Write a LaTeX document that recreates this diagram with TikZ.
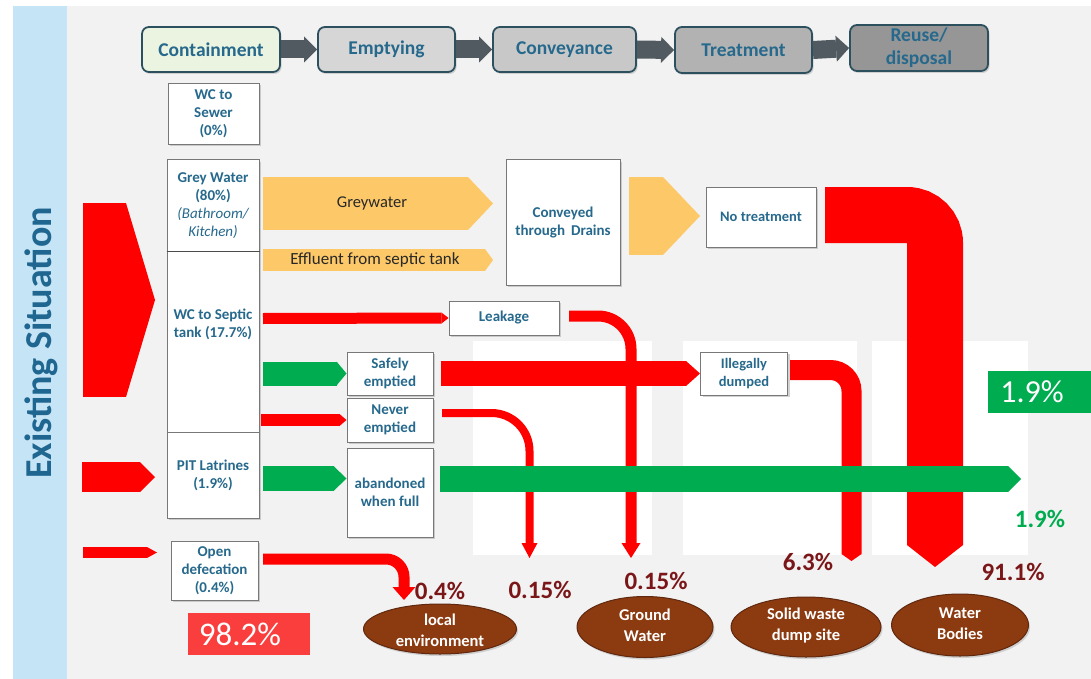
\documentclass[tikz,border=0pt]{standalone}
\usepackage{fontspec}
\setmainfont{Carlito}
\usetikzlibrary{arrows.meta,shadows,shapes.geometric}
\definecolor{bgray}{RGB}{242,242,242}
\definecolor{lblue}{RGB}{197,228,245}
\definecolor{txtc}{RGB}{38,105,140}
\definecolor{sitc}{RGB}{31,102,145}
\definecolor{hdrbd}{RGB}{45,80,95}
\definecolor{hdrarr}{RGB}{80,90,96}
\definecolor{cA}{RGB}{235,244,224}
\definecolor{cB}{RGB}{214,214,214}
\definecolor{cC}{RGB}{200,200,200}
\definecolor{cD}{RGB}{178,178,178}
\definecolor{cE}{RGB}{150,150,150}
\definecolor{yel}{RGB}{252,200,104}
\definecolor{grn}{RGB}{0,172,80}
\definecolor{mar}{RGB}{122,22,24}
\definecolor{brn}{RGB}{140,58,16}
\definecolor{brnbd}{RGB}{95,40,15}
\definecolor{boxbd}{RGB}{120,120,120}
\definecolor{pinkred}{RGB}{250,62,62}
\definecolor{darktxt}{RGB}{40,40,40}
\begin{document}
\begin{tikzpicture}[x=1pt,y=-1pt,
  hdr/.style={draw=hdrbd, line width=1.8pt, rounded corners=7pt, inner sep=0pt,
    font=\fontsize{19.5}{23}\selectfont\bfseries, text=txtc, align=center,
    drop shadow={shadow xshift=1.5pt,shadow yshift=-2pt,opacity=0.3}},
  wbox/.style={draw=boxbd, line width=1pt, fill=white, inner sep=1pt, align=center,
    text=txtc, font=\fontsize{15}{18}\selectfont\bfseries,
    drop shadow={shadow xshift=2pt,shadow yshift=-2pt,opacity=0.35}},
  txt/.style={inner sep=0pt, align=center, text=txtc, font=\fontsize{15}{18}\selectfont\bfseries},
  blk/.style n args={3}{line width=#1, -{Triangle[width=#2,length=#3,line width=0pt]}},
  ell/.style={ellipse, draw=brnbd, line width=1pt, fill=brn, inner sep=0pt,
    drop shadow={shadow xshift=1.5pt,shadow yshift=-2pt,opacity=0.3}},
  elltxt/.style={inner sep=0pt, align=center, text=white, font=\fontsize{16.5}{21}\selectfont\bfseries},
  pct/.style={inner sep=0pt, text=mar, font=\fontsize{25}{25}\selectfont\bfseries}]
\useasboundingbox (0,0) rectangle (1091,679);
% background
\fill[white] (0,0) rectangle (1091,679);
\fill[bgray] (67,6) rectangle (1091,679);
\fill[lblue] (13,6) rectangle (67,679);
\fill[white] (473,341) rectangle (652,555);
\fill[white] (683,341) rectangle (857,555);
\fill[white] (872,341) rectangle (1028,555);
\node[rotate=90, inner sep=0pt, font=\fontsize{38}{38}\selectfont\bfseries, text=sitc] (sit) at (41,343) {Existing Situation};
% header
\node[hdr, fill=cA, minimum width=138pt, minimum height=45pt] (cont) at (211,49.5) {Containment};
\node[hdr, fill=cB, minimum width=137pt, minimum height=45pt] (empt) at (386.5,49.5) {Emptying};
\node[hdr, fill=cC, minimum width=143pt, minimum height=45pt] (conv) at (564.5,49.5) {Conveyance};
\node[hdr, fill=cD, minimum width=137pt, minimum height=46pt] (treat) at (743.5,50) {Treatment};
\node[hdr, fill=cE, minimum width=138pt, minimum height=46pt] (reuse) at (919,48) {Reuse/\\disposal};
\draw[hdrarr, blk={18pt}{26pt}{13pt}] (cont.east) -- (empt.west);
\draw[hdrarr, blk={18pt}{26pt}{13pt}] (empt.east) -- (conv.west);
\draw[hdrarr, blk={18pt}{26pt}{13pt}] (conv.east) -- (treat.west);
\draw[hdrarr, blk={18pt}{26pt}{13pt}] (treat.east) -- (reuse.west);
% curved red flows (behind green)
\coordinate (leakout) at (569,316);
\coordinate (gwtop) at (631,558);
\draw[red, line width=11pt, rounded corners=33pt, -{Triangle[width=19pt,length=15pt,line width=0pt]}] (leakout) -- (631,316) -- (gwtop);
\coordinate (neverout) at (442,413);
\coordinate (nevend) at (529.5,558);
\draw[red, line width=8pt, rounded corners=38pt, -{Triangle[width=16pt,length=15pt,line width=0pt]}] (neverout) -- (529.5,413) -- (nevend);
\coordinate (openout) at (263,559);
\coordinate (openend) at (404,600);
\draw[red, line width=11pt, rounded corners=18pt, -{Triangle[width=23pt,length=13pt,line width=0pt]}] (openout) -- (404,559) -- (openend);
\coordinate (illout) at (790,370);
\coordinate (illend) at (851.5,561);
\draw[red, line width=20pt, rounded corners=21pt, -{Triangle[width=20pt,length=7pt,line width=0pt]}] (illout) -- (851.5,370) -- (illend);
\coordinate (ntout) at (825,215);
\coordinate (ntend) at (935,567);
\draw[red, line width=56pt, rounded corners=28pt, -{Triangle[width=56pt,length=22pt,line width=0pt]}] (ntout) -- (935,215) -- (ntend);
% left inputs
\draw[red, blk={194pt}{194pt}{29pt}] (83,300) -- (155,300);
\draw[red, blk={30pt}{30pt}{15pt}] (82,477) -- (155,477);
\draw[red, blk={11pt}{11pt}{10pt}] (83,552.5) -- (157,552.5);
% yellow flows
\draw[yel, blk={53pt}{53pt}{25pt}] (263,203.5) -- (493,203.5);
\node[inner sep=0pt, text=darktxt, font=\fontsize{16.5}{18}\selectfont] (gwt) at (372,203) {Greywater};
\draw[yel, blk={22pt}{22pt}{8pt}] (263,260) -- (493,260);
\node[inner sep=0pt, text=darktxt, font=\fontsize{17}{18}\selectfont] (efft) at (375,260) {Effluent from septic tank};
\draw[yel, blk={78pt}{78pt}{37pt}] (629,216) -- (700,216);
% boxes
\node[wbox, minimum width=91pt, minimum height=61pt] (sewer) at (213.5,114) {WC to\\Sewer\\(0\%)};
\node[wbox, minimum width=92pt, minimum height=91pt] (grey) at (213,205.5) {Grey Water\\(80\%)\\{\mdseries\itshape (Bathroom/}\\{\mdseries\itshape Kitchen)}};
\node[wbox, minimum width=92pt, minimum height=181pt] (septic) at (213,341.5) {};
\node[txt] (septict) at (213,324) {WC to Septic\\tank (17.7\%)};
\node[wbox, minimum width=92pt, minimum height=86pt] (pit) at (213,475) {PIT Latrines\\(1.9\%)};
\draw[line width=1.6pt, black!70] (grey.south west) -- (grey.south east);
\node[wbox, minimum width=87pt, minimum height=59pt] (open) at (214.5,570.5) {Open\\defecation\\(0.4\%)};
\node[wbox, minimum width=86pt, minimum height=43pt] (safe) at (390,373.5) {Safely\\emptied};
\node[wbox, minimum width=86pt, minimum height=44pt] (never) at (390,420) {Never\\emptied};
\node[wbox, minimum width=86pt, minimum height=89pt] (aband) at (390,492.5) {abandoned\\when full};
\node[wbox, minimum width=110pt, minimum height=34pt] (leak) at (504,318) {Leakage};
\node[wbox, minimum width=114pt, minimum height=125pt] (convd) at (563,222.5) {Conveyed\\through\hspace{6pt}Drains};
\node[wbox, minimum width=110pt, minimum height=60pt, font=\fontsize{14.5}{18}\selectfont\bfseries] (notr) at (761,217) {No treatment};
\node[wbox, minimum width=87pt, minimum height=43pt, font=\fontsize{14.5}{18}\selectfont\bfseries] (illeg) at (744,373.5) {Illegally\\dumped};
% straight flows between boxes
\draw[red, blk={11pt}{11pt}{7pt}] (263,318.5) -- (leak.west);
\draw[grn, blk={24pt}{24pt}{10pt}] (263,373.5) -- (safe.west);
\draw[red, blk={12pt}{12pt}{7pt}] (261,420) -- (never.west);
\draw[grn, blk={25pt}{25pt}{13pt}] (263,478.5) -- ([yshift=14pt]aband.west);
\draw[red, blk={25pt}{25pt}{14pt}] (safe.east) ++(7,0) -- (illeg.west);
\coordinate (gend) at (1021,479);
\draw[grn, blk={26pt}{26pt}{13pt}] (440,479) -- (gend);
% result boxes
\node[fill=grn, inner sep=0pt, minimum width=103pt, minimum height=42pt] (gbox) at (1039.5,392) {};
\node[inner sep=0pt, text=white, font=\fontsize{32}{32}\selectfont] (gboxt) at (1032,392) {1.9\%};
\node[fill=pinkred, inner sep=0pt, minimum width=122pt, minimum height=42pt] (rbox) at (249,634) {};
\node[inner sep=0pt, text=white, font=\fontsize{33}{33}\selectfont] (rboxt) at (240,634) {98.2\%};
% sinks
\node[ell, minimum width=153pt, minimum height=50pt] (local) at (440,629) {};
\node[elltxt] (localt) at (440,630.5) {local\\environment};
\node[ell, minimum width=136pt, minimum height=61pt] (ground) at (645,627) {};
\node[elltxt] (groundt) at (645,625.5) {Ground\\Water};
\node[ell, minimum width=150pt, minimum height=60pt] (solid) at (806,627) {};
\node[elltxt] (solidt) at (806,625.5) {Solid waste\\dump site};
\node[ell, minimum width=137pt, minimum height=62pt] (water) at (960,625) {};
\node[elltxt] (watert) at (960,623.5) {Water\\Bodies};
% percentages
\node[pct] (p04) at (440,591) {0.4\%};
\node[pct] (p015a) at (540,590) {0.15\%};
\node[pct] (p015b) at (656,581) {0.15\%};
\node[pct] (p63) at (808,562) {6.3\%};
\node[pct] (p911) at (1013,572) {91.1\%};
\node[pct, text=grn] (p19) at (1040,519) {1.9\%};
\end{tikzpicture}
\end{document}
